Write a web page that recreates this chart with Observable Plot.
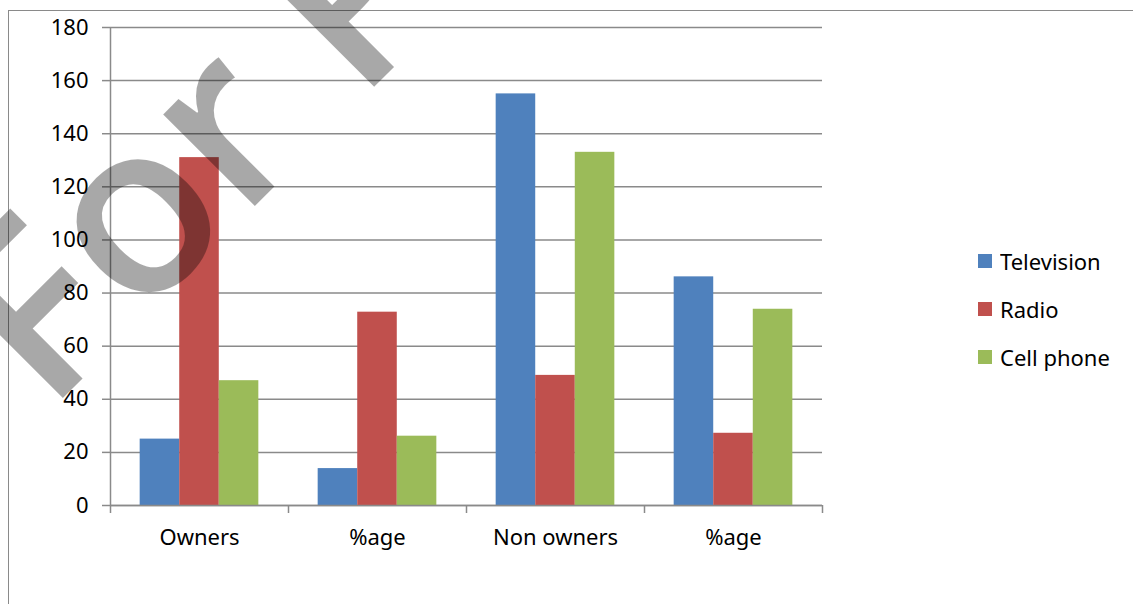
<!DOCTYPE html>
<html>
<head>
<meta charset="utf-8">
<script src="https://cdn.jsdelivr.net/npm/d3@7"></script>
<script src="https://cdn.jsdelivr.net/npm/@observablehq/plot@0.6"></script>
<style>
  html, body { margin: 0; padding: 0; background: #fff; }
  #wrap { position: relative; width: 1133px; height: 604px; overflow: hidden; font-family: "Noto Sans", sans-serif; }
  #border { position: absolute; left: 8px; top: 10px; right: -2px; bottom: -2px; border-top: 1px solid #8a8a8a; border-left: 1px solid #8a8a8a; }
  #chart { position: absolute; left: 0; top: 0; }
  #legend { position: absolute; left: 978px; top: 237px; }
  #legend > div { font-family: "Noto Sans", sans-serif !important; font-size: 22px !important; color: #000 !important; margin: 0 !important; columns: auto !important; }
  #legend .lg-swatch { height: 48px !important; display: flex !important; align-items: center !important; margin: 0 !important; padding: 0 !important; }
  #legend .lg-swatch svg { margin-right: 8px !important; }
  #wm { position: absolute; left: 0; top: 0; pointer-events: none; }
</style>
</head>
<body>
<div id="wrap">
  <div id="border"></div>
  <div id="chart"></div>
  <div id="legend"></div>
  <svg id="wm" width="1133" height="604"></svg>
</div>
<script>
// Data
const categories = ["Owners", "%age", "Non owners", "%age"];
const seriesNames = ["Television", "Radio", "Cell phone"];
const television = [25, 13.9, 155, 86.1];
const radio = [131, 72.8, 49, 27.2];
const cellPhone = [47, 26.1, 133, 73.9];
const colors = ["#4F81BD", "#C0504D", "#9BBB59"];
const yTicks = [0, 20, 40, 60, 80, 100, 120, 140, 160, 180];

const seriesValues = [television, radio, cellPhone];
const data = [];
categories.forEach((c, g) => {
  seriesNames.forEach((s, k) => {
    data.push({group: g, category: c, series: s, k, value: seriesValues[k][g]});
  });
});

// Excel-like clustered layout: gap of 0.75 bar widths on each side of 3 bars
const slot = 4.5;
const x1 = d => d.group + (0.75 + d.k) / slot;
const x2 = d => d.group + (1.75 + d.k) / slot;

const gridColor = "#8a8a8a";

const chart = Plot.plot({
  width: 1133,
  height: 604,
  marginLeft: 110,
  marginRight: 311,
  marginTop: 27,
  marginBottom: 99,
  style: {fontFamily: "Noto Sans, sans-serif", fontSize: "22px", color: "#000", background: "transparent", overflow: "visible"},
  x: {type: "linear", domain: [0, categories.length], label: null},
  y: {domain: [0, 180], label: null},
  color: {domain: seriesNames, range: colors},
  marks: [
    Plot.gridY(yTicks, {stroke: gridColor, strokeOpacity: 1, strokeWidth: 1.5}),
    Plot.rect(data, {x1, x2, y1: 0, y2: "value", fill: "series"}),
    Plot.ruleX([0], {stroke: gridColor, strokeWidth: 1.5}),
    Plot.ruleY([0], {stroke: gridColor, strokeWidth: 1.5}),
    Plot.axisY({ticks: yTicks, tickSize: 8, tickPadding: 14, stroke: gridColor, strokeWidth: 1.5, fontSize: 22, label: null}),
    Plot.axisX({ticks: d3.range(categories.length + 1), tickSize: 8, tickFormat: () => "", stroke: gridColor, strokeWidth: 1.5, label: null}),
    Plot.axisX({ticks: categories.map((c, i) => i + 0.5), tickSize: 0, tickPadding: 24, tickFormat: d => categories[Math.floor(d)], fontSize: 22, label: null})
  ]
});
document.getElementById("chart").appendChild(chart);

const legend = Plot.legend({
  color: {domain: seriesNames, range: colors},
  legend: "swatches",
  columns: 1,
  swatchSize: 14,
  className: "lg"
});
document.getElementById("legend").appendChild(legend);

// Watermark (decorative text over the chart)
const wm = d3.select("#wm");
wm.append("text")
  .attr("transform", "translate(47,414) rotate(-45)")
  .attr("font-family", "Open Sans, sans-serif")
  .attr("font-weight", 600)
  .attr("font-size", 240)
  .attr("fill", "rgba(0,0,0,0.34)")
  .text("For Preview");
</script>
</body>
</html>
